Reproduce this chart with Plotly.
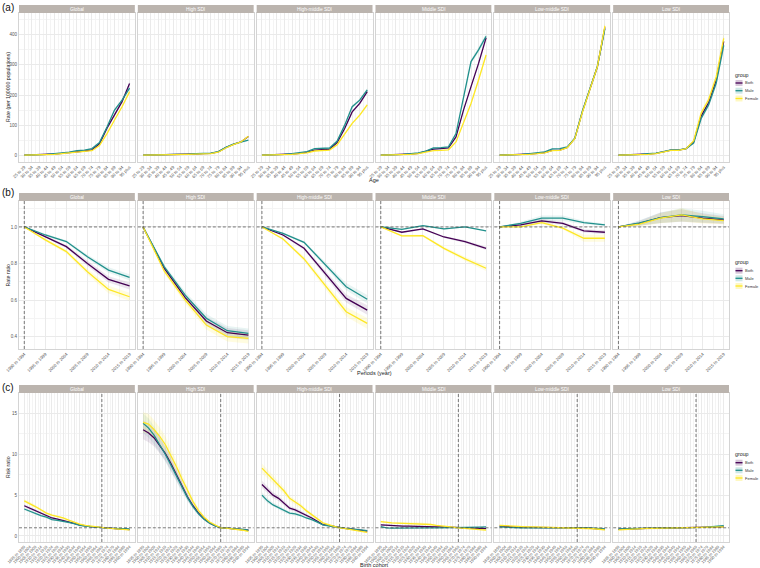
import plotly.graph_objects as go

W, H = 760, 568

regions = ["Global", "High SDI", "High-middle SDI", "Middle SDI", "Low-middle SDI", "Low SDI"]
groups = ["Both", "Male", "Female"]

ages = ["25 to 29", "30 to 34", "35 to 39", "40 to 44", "45 to 49", "50 to 54", "55 to 59",
        "60 to 64", "65 to 69", "70 to 74", "75 to 79", "80 to 84", "85 to 89", "90 to 94", "95 plus"]
periods = ["1990 to 1994", "1995 to 1999", "2000 to 2004", "2005 to 2009", "2010 to 2014", "2015 to 2019"]
cohorts = ["1895 to 1899", "1900 to 1904", "1905 to 1909", "1910 to 1914", "1915 to 1919",
           "1920 to 1924", "1925 to 1929", "1930 to 1934", "1935 to 1939", "1940 to 1944",
           "1945 to 1949", "1950 to 1954", "1955 to 1959", "1960 to 1964", "1965 to 1969",
           "1970 to 1974", "1975 to 1979", "1980 to 1984", "1985 to 1989", "1990 to 1994"]
ref_cohort = "1965 to 1969"
ref_period = "1990 to 1994"

# ---------- (a) age-specific rates (per 100000) ----------
age_global_both = [0.4, 0.8, 1.5, 2.5, 4, 6, 8, 12, 14, 18, 38, 90, 133, 178, 238]
age_global_male = [0.5, 1, 2, 3, 5, 7, 10, 15, 17, 22, 42, 94, 150, 183, 223]
age_global_female = [0.3, 0.6, 1, 2, 3, 5, 7, 10, 12, 15, 32, 72, 117, 161, 211]

age_high_both = [0.2, 0.4, 0.7, 1, 1.5, 2, 3, 4, 5, 6, 11, 25, 36, 44, 62]
age_high_male = [0.3, 0.5, 0.8, 1.2, 1.8, 2.5, 3.5, 5, 6, 7, 12, 26, 37, 44, 50]
age_high_female = [0.2, 0.3, 0.6, 0.9, 1.3, 1.8, 2.6, 3.5, 4.5, 5.5, 10, 24, 35, 44, 63]

age_highmid_both = [0.4, 0.8, 1.5, 2.5, 4, 6, 10, 17, 18, 20, 42, 89, 144, 172, 211]
age_highmid_male = [0.5, 1, 2, 3, 5, 8, 12, 22, 22, 24, 47, 100, 161, 183, 217]
age_highmid_female = [0.3, 0.6, 1, 2, 3, 5, 8, 14, 15, 17, 35, 72, 106, 133, 167]

age_mid_both = [0.4, 0.8, 1.5, 2.5, 4, 6, 12, 20, 22, 24, 61, 150, 228, 305, 390]
age_mid_male = [0.5, 1, 2, 3, 5, 8, 14, 24, 25, 28, 72, 194, 311, 350, 395]
age_mid_female = [0.3, 0.6, 1, 2, 3, 5, 10, 15, 16, 18, 44, 106, 172, 250, 333]

age_lowmid_both = [0.4, 0.8, 1.5, 2.5, 4, 6, 9, 16, 17, 26, 56, 144, 222, 294, 425]
age_lowmid_male = [0.5, 1, 2, 3, 5, 7, 11, 21, 22, 28, 57, 146, 224, 295, 420]
age_lowmid_female = [0.3, 0.6, 1, 2, 3, 5, 8, 15, 16, 25, 55, 142, 220, 294, 430]

age_low_both = [0.4, 0.8, 1.5, 2.5, 4, 6, 11, 17, 17, 22, 44, 130, 175, 250, 378]
age_low_male = [0.5, 1, 2, 3, 5, 7, 12, 18, 18, 22, 40, 122, 168, 240, 365]
age_low_female = [0.3, 0.6, 1, 2, 3, 5, 10, 16, 16, 22, 48, 140, 185, 260, 388]

# ---------- (b) period rate ratios ----------
per_global_both = [1, 0.947, 0.892, 0.800, 0.713, 0.677]
per_global_male = [1, 0.956, 0.920, 0.837, 0.764, 0.724]
per_global_female = [1, 0.929, 0.865, 0.755, 0.658, 0.618]

per_high_both = [1, 0.774, 0.613, 0.485, 0.421, 0.408]
per_high_male = [1, 0.783, 0.627, 0.500, 0.432, 0.417]
per_high_female = [1, 0.759, 0.600, 0.463, 0.400, 0.390]

per_highmid_both = [1, 0.956, 0.883, 0.746, 0.609, 0.545]
per_highmid_male = [1, 0.965, 0.916, 0.792, 0.673, 0.604]
per_highmid_female = [1, 0.934, 0.825, 0.682, 0.536, 0.472]

per_mid_both = [1, 0.971, 0.989, 0.945, 0.920, 0.883]
per_mid_male = [1, 0.987, 1.007, 0.989, 1.000, 0.978]
per_mid_female = [1, 0.951, 0.952, 0.883, 0.825, 0.774]

per_lowmid_both = [1, 1.011, 1.033, 1.020, 0.978, 0.971]
per_lowmid_male = [1, 1.020, 1.048, 1.048, 1.024, 1.011]
per_lowmid_female = [1, 1.000, 1.024, 0.993, 0.938, 0.938]

per_low_both = [1, 1.020, 1.051, 1.062, 1.048, 1.038]
per_low_male = [1, 1.022, 1.051, 1.066, 1.057, 1.044]
per_low_female = [1, 1.015, 1.048, 1.066, 1.044, 1.035]

# ---------- (c) cohort risk ratios ----------
coh_global_both = [3.7, 3.4, 3.1, 2.8, 2.5, 2.2, 2.05, 1.9, 1.75, 1.55, 1.35, 1.22, 1.15, 1.07, 1.0, 0.95, 0.9, 0.87, 0.83, 0.78]
coh_global_male = [3.3, 3.0, 2.75, 2.5, 2.3, 2.0, 1.9, 1.8, 1.65, 1.5, 1.3, 1.2, 1.12, 1.06, 1.0, 0.96, 0.93, 0.9, 0.87, 0.85]
coh_global_female = [4.3, 4.0, 3.6, 3.2, 2.8, 2.55, 2.4, 2.2, 1.95, 1.7, 1.45, 1.3, 1.2, 1.1, 1.0, 0.95, 0.9, 0.85, 0.8, 0.75]

coh_high_both = [13.0, 12.6, 12.0, 11.1, 10.1, 8.9, 7.5, 6.1, 4.8, 3.7, 2.8, 2.1, 1.6, 1.25, 1.0, 0.95, 0.9, 0.85, 0.8, 0.7]
coh_high_male = [13.8, 13.2, 12.3, 11.2, 10.0, 8.7, 7.3, 5.9, 4.7, 3.6, 2.7, 2.05, 1.55, 1.22, 1.0, 0.96, 0.92, 0.87, 0.8, 0.7]
coh_high_female = [13.9, 13.7, 13.0, 12.2, 11.2, 9.9, 8.5, 7.0, 5.5, 4.2, 3.1, 2.3, 1.7, 1.3, 1.0, 0.95, 0.88, 0.8, 0.7, 0.55]

coh_highmid_both = [6.3, 5.6, 5.0, 4.6, 4.0, 3.4, 3.2, 2.9, 2.5, 2.2, 1.8, 1.4, 1.3, 1.15, 1.0, 0.92, 0.85, 0.77, 0.7, 0.6]
coh_highmid_male = [5.0, 4.3, 3.8, 3.5, 3.1, 2.8, 2.7, 2.5, 2.2, 2.0, 1.7, 1.35, 1.25, 1.12, 1.0, 0.93, 0.87, 0.8, 0.73, 0.65]
coh_highmid_female = [8.3, 7.6, 6.9, 6.2, 5.5, 4.6, 4.2, 3.7, 3.1, 2.6, 2.1, 1.6, 1.4, 1.2, 1.0, 0.9, 0.8, 0.7, 0.6, 0.45]

coh_mid_both = [1.35, 1.3, 1.25, 1.22, 1.2, 1.2, 1.2, 1.2, 1.18, 1.15, 1.12, 1.1, 1.07, 1.03, 1.0, 0.98, 0.95, 0.93, 0.92, 0.9]
coh_mid_male = [1.15, 1.0, 0.95, 0.97, 0.98, 1.0, 1.0, 1.0, 1.0, 1.0, 1.0, 1.0, 1.0, 1.0, 1.0, 1.0, 1.02, 1.05, 1.08, 1.1]
coh_mid_female = [1.75, 1.65, 1.6, 1.58, 1.55, 1.55, 1.55, 1.55, 1.5, 1.4, 1.3, 1.25, 1.15, 1.08, 1.0, 0.95, 0.9, 0.85, 0.8, 0.72]

coh_lowmid_both = [1.2, 1.15, 1.1, 1.08, 1.06, 1.05, 1.05, 1.04, 1.03, 1.03, 1.02, 1.02, 1.01, 1.0, 1.0, 0.98, 0.95, 0.9, 0.85, 0.8]
coh_lowmid_male = [1.1, 1.05, 1.0, 0.98, 0.98, 0.98, 0.99, 0.99, 1.0, 1.0, 1.0, 1.0, 1.0, 1.0, 1.0, 1.0, 0.98, 0.95, 0.9, 0.85]
coh_lowmid_female = [1.3, 1.25, 1.2, 1.15, 1.12, 1.1, 1.1, 1.08, 1.07, 1.06, 1.05, 1.04, 1.03, 1.02, 1.0, 0.97, 0.93, 0.88, 0.82, 0.75]

coh_low_both = [0.8, 0.84, 0.87, 0.9, 0.92, 0.93, 0.94, 0.95, 0.96, 0.96, 0.97, 0.98, 0.98, 0.99, 1.0, 1.03, 1.06, 1.09, 1.12, 1.15]
coh_low_male = [0.85, 0.88, 0.9, 0.92, 0.93, 0.94, 0.95, 0.96, 0.96, 0.97, 0.97, 0.98, 0.99, 0.99, 1.0, 1.04, 1.08, 1.13, 1.18, 1.25]
coh_low_female = [0.75, 0.8, 0.85, 0.88, 0.9, 0.92, 0.93, 0.94, 0.95, 0.95, 0.96, 0.97, 0.98, 0.99, 1.0, 1.02, 1.04, 1.06, 1.08, 1.1]

# relative half-width of confidence bands, read per panel
ci_age = [0.03, 0.04, 0.03, 0.025, 0.025, 0.05]
ci_per = [0.05, 0.04, 0.05, 0.05, 0.25, 0.5]
ci_coh = [0.04, 0.09, 0.07, 0.08, 0.08, 0.15]

age_data = [
    [age_global_both, age_global_male, age_global_female],
    [age_high_both, age_high_male, age_high_female],
    [age_highmid_both, age_highmid_male, age_highmid_female],
    [age_mid_both, age_mid_male, age_mid_female],
    [age_lowmid_both, age_lowmid_male, age_lowmid_female],
    [age_low_both, age_low_male, age_low_female],
]
per_data = [
    [per_global_both, per_global_male, per_global_female],
    [per_high_both, per_high_male, per_high_female],
    [per_highmid_both, per_highmid_male, per_highmid_female],
    [per_mid_both, per_mid_male, per_mid_female],
    [per_lowmid_both, per_lowmid_male, per_lowmid_female],
    [per_low_both, per_low_male, per_low_female],
]
coh_data = [
    [coh_global_both, coh_global_male, coh_global_female],
    [coh_high_both, coh_high_male, coh_high_female],
    [coh_highmid_both, coh_highmid_male, coh_highmid_female],
    [coh_mid_both, coh_mid_male, coh_mid_female],
    [coh_lowmid_both, coh_lowmid_male, coh_lowmid_female],
    [coh_low_both, coh_low_male, coh_low_female],
]

line_colors = {"Both": "#440154", "Male": "#21908C", "Female": "#FDE725"}
band_colors = {"Both": "rgba(68,1,84,0.10)", "Male": "rgba(33,144,140,0.10)", "Female": "rgba(253,231,37,0.14)"}
swatch_colors = {"Both": "rgba(68,1,84,0.22)", "Male": "rgba(33,144,140,0.22)", "Female": "rgba(253,231,37,0.28)"}

FONT = "Liberation Sans"
STRIP = "#BBB4AE"
GRID = "#EAEAEA"
MINOR = "#F4F4F4"
BORDER = "#D4D4D4"

rows_px = [(13, 162), (201, 349), (393, 542)]
strip_px = [(5, 13), (193, 201), (385, 393)]
left, right, gap = 19, 729, 3
pw = (right - left - 5 * gap) / 6


def px(xp):
    return xp / W


def py(yp):
    return 1 - yp / H


rows = [
    dict(cats=ages, data=age_data, ci=ci_age, yr=[-22.5, 472.5], ytv=[0, 100, 200, 300, 400],
         ytt=["0", "100", "200", "300", "400"],
         yminor=[50, 150, 250, 350, 450], title="Rate (per 100000 populations)", mode="age"),
    dict(cats=periods, data=per_data, ci=ci_per, yr=[0.332, 1.142], ytv=[0.4, 0.6, 0.8, 1.0],
         ytt=["0.4", "0.6", "0.8", "1.0"],
         yminor=[0.5, 0.7, 0.9, 1.1], title="Rate ratio", mode="ratio", ref=ref_period),
    dict(cats=cohorts, data=coh_data, ci=ci_coh, yr=[-0.74, 17.5], ytv=[0, 5, 10, 15],
         ytt=["0", "5", "10", "15"],
         yminor=[2.5, 7.5, 12.5, 17.5], title="Risk ratio", mode="ratio", ref=ref_cohort),
]

fig = go.Figure()
layout = {}
shapes = []
annotations = []


def note(x, y, text, size, color="#222222", xanchor="center", angle=0):
    annotations.append(dict(x=px(x), y=py(y), xref="paper", yref="paper", text=text,
                            showarrow=False, xanchor=xanchor, yanchor="middle", textangle=angle,
                            borderpad=0,
                            font=dict(size=size, color=color, family=FONT)))


for r, row in enumerate(rows):
    cats = row["cats"]
    n = len(cats)
    idx = list(range(n))
    pad = 0.05 * (n - 1)
    t, b = rows_px[r]
    xfs = 4.3 if r < 2 else 4.0
    for i, reg in enumerate(regions):
        k = r * 6 + i + 1
        xa = "x" if k == 1 else f"x{k}"
        ya = "y" if k == 1 else f"y{k}"
        x0 = left + i * (pw + gap)
        x1 = x0 + pw
        layout["xaxis" if k == 1 else f"xaxis{k}"] = dict(
            domain=[px(x0), px(x1)], anchor=ya, range=[-pad, n - 1 + pad], automargin=False,
            tickmode="array", tickvals=idx, ticktext=cats, tickangle=-45,
            tickfont=dict(size=xfs, color="#555555", family=FONT),
            showgrid=True, gridcolor=GRID, gridwidth=0.6, zeroline=False,
            minor=dict(tickmode="array", tickvals=[v + 0.5 for v in idx[:-1]], showgrid=True,
                       gridcolor=MINOR, gridwidth=0.4, ticklen=0),
            showline=True, mirror=True, linecolor=BORDER, linewidth=1, ticks="", ticklen=0,
            fixedrange=True)
        layout["yaxis" if k == 1 else f"yaxis{k}"] = dict(
            domain=[py(b), py(t)], anchor=xa, range=row["yr"], automargin=False,
            tickmode="array", tickvals=row["ytv"], ticktext=row["ytt"], showticklabels=(i == 0),
            tickfont=dict(size=4.5, color="#555555", family=FONT),
            showgrid=True, gridcolor=GRID, gridwidth=0.6, zeroline=False,
            minor=dict(tickmode="array", tickvals=row["yminor"], showgrid=True,
                       gridcolor=MINOR, gridwidth=0.4, ticklen=0),
            showline=True, mirror=True, linecolor=BORDER, linewidth=1, ticks="", ticklen=0,
            fixedrange=True)

        # strip
        st, sb = strip_px[r]
        shapes.append(dict(type="rect", xref="paper", yref="paper", x0=px(x0), x1=px(x1),
                           y0=py(sb), y1=py(st), fillcolor=STRIP, line=dict(width=0),
                           layer="above"))
        note((x0 + x1) / 2, (st + sb) / 2, reg, 4.8, color="white")

        # confidence bands
        for g, gname in enumerate(groups):
            vals = row["data"][i][g]
            c = row["ci"][i]
            if row["mode"] == "age":
                half = [c * v for v in vals]
            else:
                half = [c * abs(v - 1) + 0.004 * (row["yr"][1] - row["yr"][0]) * (v != 1) for v in vals]
            up = [v + h for v, h in zip(vals, half)]
            lo = [v - h for v, h in zip(vals, half)]
            fig.add_trace(go.Scatter(x=idx + idx[::-1], y=up + lo[::-1], fill="toself",
                                     fillcolor=band_colors[gname], line=dict(width=0),
                                     mode="lines", hoverinfo="skip", showlegend=False,
                                     xaxis=xa, yaxis=ya))
        for g, gname in enumerate(groups):
            vals = row["data"][i][g]
            fig.add_trace(go.Scatter(x=idx, y=vals, mode="lines",
                                     line=dict(color=line_colors[gname], width=1.3),
                                     name=gname, showlegend=False, xaxis=xa, yaxis=ya))

        # reference lines
        if row["mode"] == "ratio":
            refx = cats.index(row["ref"])
            shapes.append(dict(type="line", xref=xa, yref=f"{ya} domain", x0=refx, x1=refx,
                               y0=0, y1=1, line=dict(color="#444444", width=0.7, dash="3px,2px"),
                               layer="above"))
            shapes.append(dict(type="line", xref=f"{xa} domain", yref=ya, x0=0, x1=1,
                               y0=1, y1=1, line=dict(color="#444444", width=0.7, dash="3px,2px"),
                               layer="above"))

    # y title
    note(7.5, (t + b) / 2, row["title"], 5.2, angle=-90)

# x titles
for txt, yy in [("Age", 180), ("Periods (year)", 372.5), ("Birth cohort", 564.5)]:
    note(374, yy, txt, 5.5)

# panel letters
for lab, yy in [("(a)", 7.5), ("(b)", 192), ("(c)", 387.5)]:
    note(1, yy, lab, 10, color="#111111", xanchor="left")

# legends (one per row)
legend_pos = [(75, [83, 90.7, 98.5]), (262, [270.7, 278.3, 286]), (454, [462.7, 470.3, 478])]
for ty, ys in legend_pos:
    note(734, ty, "group", 5.3, xanchor="left")
    for gname, yy in zip(groups, ys):
        shapes.append(dict(type="rect", xref="paper", yref="paper", x0=px(735.5), x1=px(742.5),
                           y0=py(yy + 3), y1=py(yy - 3),
                           fillcolor=swatch_colors[gname], line=dict(width=0)))
        shapes.append(dict(type="line", xref="paper", yref="paper", x0=px(735.5), x1=px(742.5),
                           y0=py(yy), y1=py(yy),
                           line=dict(color=line_colors[gname], width=1.3)))
        note(744, yy, gname, 4.0, color="#333333", xanchor="left")

fig.update_layout(**layout)
fig.update_layout(width=W, height=H, margin=dict(l=0, r=0, t=0, b=0),
                  paper_bgcolor="white", plot_bgcolor="white", showlegend=False,
                  shapes=shapes, annotations=annotations, font=dict(family=FONT))

fig.write_html("out.html", config={"displayModeBar": False},
               post_script="document.body.style.margin='0px';document.body.style.overflow='hidden';")
